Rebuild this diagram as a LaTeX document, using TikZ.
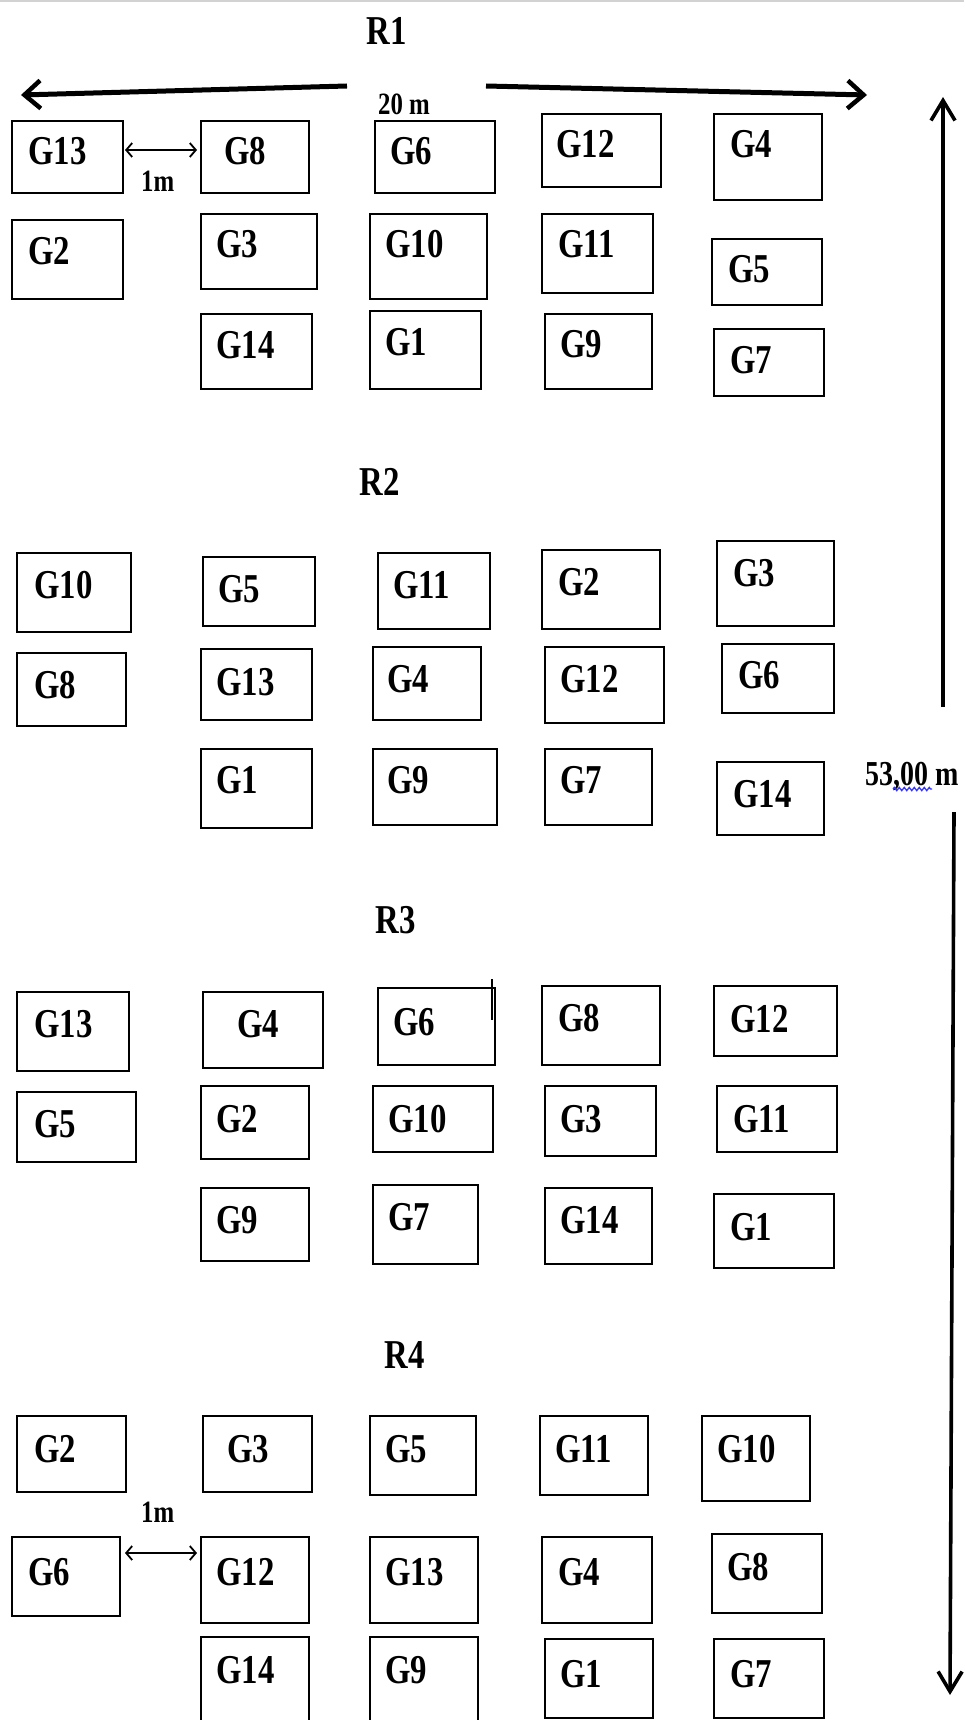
\documentclass[tikz,border=0pt]{standalone}
\usepackage{fontspec}
\usetikzlibrary{arrows.meta,decorations.pathmorphing}
\newfontfamily\gfont{Liberation Serif Bold}[FakeStretch=0.8]
\tikzset{
  gbox/.style={draw=black,line width=2.8pt,inner sep=0pt,outer sep=0pt},
  glab/.style={anchor=base west,inner sep=0pt,font=\gfont\fontsize{41}{44}\selectfont},
  rlab/.style={anchor=base,inner sep=0pt,font=\gfont\fontsize{41}{44}\selectfont},
  dimlab/.style={anchor=base west,inner sep=0pt,font=\gfont\fontsize{31}{34}\selectfont},
  bigarrow/.style={line width=5pt,-{Straight Barb[length=16pt,width=28pt,line width=4.5pt]}},
  vertarrow/.style={line width=3.6pt,-{Straight Barb[length=20pt,width=24pt,line width=3.6pt]}},
  gaparrow/.style={line width=2pt,{Straight Barb[length=6pt,width=14pt,line width=1.8pt]}-{Straight Barb[length=6pt,width=14pt,line width=1.8pt]}}
}
\newcommand\gb[8]{%
  \node[gbox,minimum width={#4pt-#2pt},minimum height={#5pt-#3pt}] (#1) at ({(#2+#4)/2},{(#3+#5)/2}) {};
  \node[glab] (#1l) at (#7,#8) {#6};}
\begin{document}
\begin{tikzpicture}[x=1pt,y=-1pt]
\useasboundingbox (0,0) rectangle (964,1720);
\clip (0,0) rectangle (964,1720);
\fill[white] (0,0) rectangle (964,1720);
\draw[gray!35,line width=2pt] (0,1) -- (964,1);
% Row labels
\node[rlab] (R1) at (387,45) {R1};
\node[rlab] (R2) at (380,495) {R2};
\node[rlab] (R3) at (396,933) {R3};
\node[rlab] (R4) at (405,1368) {R4};
% dimension arrows
\coordinate (la) at (347,86); \coordinate (lb) at (21,95);
\coordinate (ra) at (486,86); \coordinate (rb) at (867,95);
\draw[bigarrow] (la) -- (lb);
\draw[bigarrow] (ra) -- (rb);
\node[dimlab] (w20) at (378,115) {20 m};
\coordinate (va) at (943,707); \coordinate (vb) at (943,97);
\coordinate (vc) at (954,812); \coordinate (vd) at (950,1695);
\draw[vertarrow] (va) -- (vb);
\draw[vertarrow] (vc) -- (vd);
\node[anchor=base west,inner sep=0pt,font=\gfont\fontsize{35}{38}\selectfont] (h53) at (865,785) {53,00 m};
\coordinate (sqa) at (893,789); \coordinate (sqb) at (932,789);
\draw[blue!80,line width=1.3pt,decorate,decoration={zigzag,segment length=5pt,amplitude=1.6pt}] (sqa) -- (sqb);
% R1
\gb{ag13}{12}{121}{123}{193}{G13}{28}{165}
\gb{ag8}{201}{121}{309}{193}{G8}{224}{165}
\gb{ag6}{375}{121}{495}{193}{G6}{390}{165}
\gb{ag12}{542}{114}{661}{187}{G12}{556}{158}
\gb{ag4}{714}{114}{822}{200}{G4}{730}{158}
\gb{ag2}{12}{220}{123}{299}{G2}{28}{265}
\gb{ag3}{201}{214}{317}{289}{G3}{216}{258}
\gb{ag10}{370}{214}{487}{299}{G10}{385}{258}
\gb{ag11}{542}{214}{653}{293}{G11}{558}{258}
\gb{ag5}{712}{239}{822}{305}{G5}{728}{283}
\gb{ag14}{201}{314}{312}{389}{G14}{216}{358}
\gb{ag1}{370}{311}{481}{389}{G1}{385}{355}
\gb{ag9}{545}{314}{652}{389}{G9}{560}{357}
\gb{ag7}{714}{329}{824}{396}{G7}{730}{373}
\coordinate (ga1) at (125,150); \coordinate (gb1) at (197,150);
\draw[gaparrow] (ga1) -- (gb1);
\node[dimlab] (m1a) at (141,192) {1m};
% R2
\gb{bg10}{17}{553}{131}{632}{G10}{34}{598}
\gb{bg5}{203}{557}{315}{626}{G5}{218}{602}
\gb{bg11}{378}{553}{490}{629}{G11}{393}{598}
\gb{bg2}{542}{550}{660}{629}{G2}{558}{595}
\gb{bg3}{717}{541}{834}{626}{G3}{733}{586}
\gb{bg8}{17}{653}{126}{726}{G8}{34}{698}
\gb{bg13}{201}{649}{312}{720}{G13}{216}{695}
\gb{bg4}{373}{647}{481}{720}{G4}{387}{692}
\gb{bg12}{545}{647}{664}{723}{G12}{560}{692}
\gb{bg6}{722}{644}{834}{713}{G6}{738}{688}
\gb{bg1}{201}{749}{312}{828}{G1}{216}{793}
\gb{bg9}{373}{749}{497}{825}{G9}{387}{793}
\gb{bg7}{545}{749}{652}{825}{G7}{560}{793}
\gb{bg14}{717}{762}{824}{835}{G14}{733}{807}
% R3
\gb{cg13}{17}{992}{129}{1071}{G13}{34}{1037}
\gb{cg4}{203}{992}{323}{1068}{G4}{237}{1037}
\gb{cg6}{378}{988}{495}{1065}{G6}{393}{1035}
\gb{cg8}{542}{986}{660}{1065}{G8}{558}{1031}
\gb{cg12}{714}{986}{837}{1056}{G12}{730}{1032}
\gb{cg5}{17}{1092}{136}{1162}{G5}{34}{1137}
\gb{cg2}{201}{1086}{309}{1159}{G2}{216}{1132}
\gb{cg10}{373}{1086}{493}{1152}{G10}{388}{1132}
\gb{cg3}{545}{1086}{656}{1156}{G3}{560}{1132}
\gb{cg11}{717}{1086}{837}{1152}{G11}{733}{1132}
\gb{cg9}{201}{1188}{309}{1261}{G9}{216}{1233}
\gb{cg7}{373}{1185}{478}{1264}{G7}{388}{1230}
\gb{cg14}{545}{1188}{652}{1264}{G14}{560}{1233}
\gb{cg1}{714}{1194}{834}{1268}{G1}{730}{1240}
\coordinate (tka) at (492,979); \coordinate (tkb) at (492,1020);
\draw[line width=2.6pt] (tka) -- (tkb);
% R4
\gb{dg2}{17}{1416}{126}{1492}{G2}{34}{1462}
\gb{dg3}{203}{1416}{312}{1492}{G3}{227}{1462}
\gb{dg5}{370}{1416}{476}{1495}{G5}{385}{1462}
\gb{dg11}{540}{1416}{648}{1495}{G11}{555}{1462}
\gb{dg10}{702}{1416}{810}{1501}{G10}{717}{1462}
\gb{dg6}{12}{1537}{120}{1616}{G6}{28}{1585}
\gb{dg12}{201}{1537}{309}{1623}{G12}{216}{1585}
\gb{dg13}{370}{1537}{478}{1623}{G13}{385}{1585}
\gb{dg4}{542}{1537}{652}{1623}{G4}{558}{1585}
\gb{dg8}{712}{1534}{822}{1613}{G8}{727}{1580}
\gb{dg14}{201}{1637}{309}{1735}{G14}{216}{1683}
\gb{dg9}{370}{1637}{478}{1735}{G9}{385}{1683}
\gb{dg1}{545}{1639}{653}{1718}{G1}{560}{1687}
\gb{dg7}{714}{1639}{824}{1718}{G7}{730}{1687}
\coordinate (ga2) at (125,1553); \coordinate (gb2) at (197,1553);
\draw[gaparrow] (ga2) -- (gb2);
\node[dimlab] (m1b) at (141,1522) {1m};
\end{tikzpicture}
\end{document}
